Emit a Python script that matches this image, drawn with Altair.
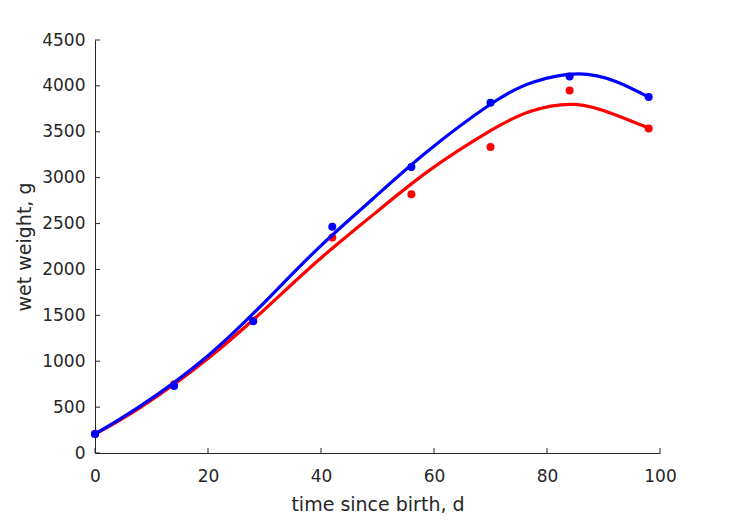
import altair as alt
import pandas as pd

# observed data
days = [0, 14, 28, 42, 56, 70, 84, 98]
red_obs = [207, 750, 1440, 2347, 2818, 3333, 3950, 3537]
blue_obs = [207, 729, 1436, 2465, 3115, 3815, 4102, 3880]

# fitted curves
fit_days_blue = [0, 8, 20, 31, 40, 49, 58.7, 70, 77.5, 85.5, 92.3, 98]
fit_blue = [207, 510, 1060, 1705, 2260, 2760, 3280, 3800, 4040, 4131, 4045, 3877]
fit_days_red = [0, 8, 20, 31, 40, 49.3, 59.3, 70, 77, 85, 92.3, 98]
fit_red = [207, 495, 1030, 1620, 2125, 2600, 3085, 3512, 3722, 3798, 3680, 3540]

x_ticks = [0, 20, 40, 60, 80, 100]
y_ticks = [0, 500, 1000, 1500, 2000, 2500, 3000, 3500, 4000, 4500]

INK = "#262626"
FONT = "DejaVu Sans"

xscale = alt.Scale(domain=[0, 100], nice=False, zero=False)
yscale = alt.Scale(domain=[0, 4500], nice=False)

xenc = alt.X("day:Q", scale=xscale,
             axis=alt.Axis(values=x_ticks, format="d", labelFlush=False,
                           title="time since birth, d"))
yenc = alt.Y("w:Q", scale=yscale,
             axis=alt.Axis(values=y_ticks, format="d", labelFlush=False,
                           title="wet weight, g"))

df_red_fit = pd.DataFrame({"day": fit_days_red, "w": fit_red})
df_blue_fit = pd.DataFrame({"day": fit_days_blue, "w": fit_blue})
df_red_obs = pd.DataFrame({"day": days, "w": red_obs})
df_blue_obs = pd.DataFrame({"day": days, "w": blue_obs})
df_xt = pd.DataFrame({"day": x_ticks})
df_yt = pd.DataFrame({"w": y_ticks})

red_line = alt.Chart(df_red_fit).mark_line(
    color="#FF0000", strokeWidth=3.2, interpolate="natural"
).encode(x=xenc, y=yenc)
blue_line = alt.Chart(df_blue_fit).mark_line(
    color="#0000FF", strokeWidth=3.2, interpolate="natural"
).encode(x=xenc, y=yenc)
red_pts = alt.Chart(df_red_obs).mark_circle(
    color="#FF0000", size=64, opacity=1
).encode(x=xenc, y=yenc)
blue_pts = alt.Chart(df_blue_obs).mark_circle(
    color="#0000FF", size=64, opacity=1
).encode(x=xenc, y=yenc)

xticks = alt.Chart(df_xt).mark_rule(color=INK, strokeWidth=1).encode(
    x=xenc, y=alt.value(413), y2=alt.value(408))
yticks = alt.Chart(df_yt).mark_rule(color=INK, strokeWidth=1).encode(
    y=yenc, x=alt.value(0), x2=alt.value(5))

chart = alt.layer(
    xticks, yticks, red_line, red_pts, blue_line, blue_pts
).properties(
    width=565, height=413,
    autosize=alt.AutoSizeParams(type="none"),
    padding={"left": 87, "top": 32, "right": 61, "bottom": 60},
    background="white",
).configure_view(
    stroke=None
).configure_axis(
    grid=False,
    tickSize=0,
    domainColor=INK,
    domainWidth=1,
    labelFont=FONT,
    labelFontSize=17,
    labelColor=INK,
    titleFont=FONT,
    titleFontSize=19,
    titleFontWeight="normal",
    titleColor=INK,
).configure_axisX(
    labelPadding=15,
    titlePadding=11,
).configure_axisY(
    labelPadding=10,
    titlePadding=7,
)

chart.save("out.html", embed_options={"renderer": "svg", "actions": False})
